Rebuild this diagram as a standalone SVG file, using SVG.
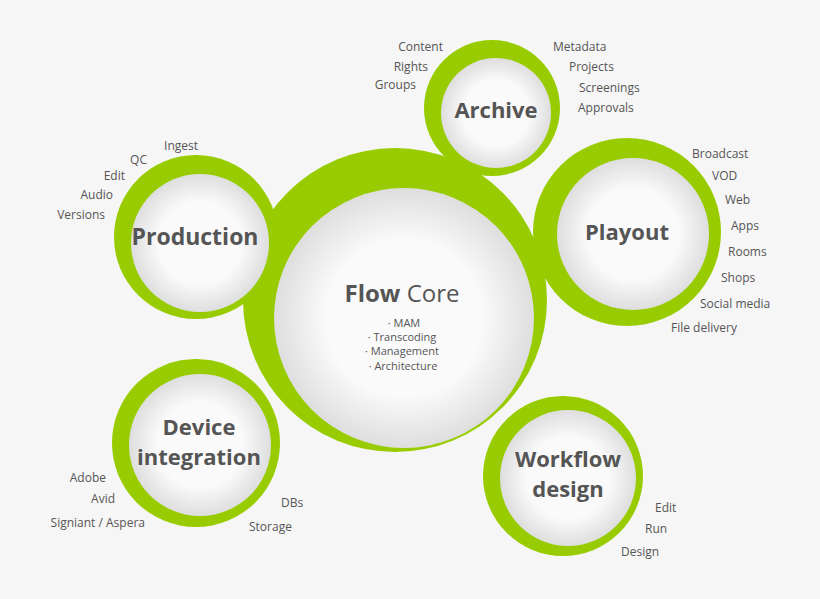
<svg xmlns="http://www.w3.org/2000/svg" width="820" height="599" viewBox="0 0 820 599">
<defs>
<radialGradient id="g" cx="50%" cy="50%" r="50%"><stop offset="0.6" stop-color="#fafafa"/><stop offset="1" stop-color="#dedede"/></radialGradient>
<style>
.ring{fill:#99cc00}
.in{fill:url(#g)}
.t{font-family:"Open Sans",sans-serif;font-weight:bold;fill:#555;text-anchor:middle}
.s{font-family:"Open Sans",sans-serif;font-size:12px;fill:#555}
.c{font-size:11px}
.l{text-anchor:start}.r{text-anchor:end}.m{text-anchor:middle}
</style>
</defs>
<rect width="820" height="599" fill="#f6f6f6"/>
<g id="core"><circle class="ring" cx="395" cy="300" r="152"/><circle class="in" cx="404" cy="318" r="130"/>
<text class="t" x="402" y="302" font-size="24">Flow <tspan font-weight="normal">Core</tspan></text>
<text class="s c m" x="404" y="327">· MAM</text><text class="s c m" x="402" y="341">· Transcoding</text><text class="s c m" x="402" y="355">· Management</text><text class="s c m" x="403" y="370">· Architecture</text></g>
<g id="archive"><circle class="ring" cx="492" cy="108" r="68"/><circle class="in" cx="496" cy="113" r="55"/>
<text class="t" x="496" y="118" font-size="22">Archive</text>
<text class="s r" x="443" y="51">Content</text><text class="s r" x="428" y="71">Rights</text><text class="s r" x="416" y="89">Groups</text>
<text class="s l" x="553" y="51">Metadata</text><text class="s l" x="569" y="71">Projects</text><text class="s l" x="579" y="92">Screenings</text><text class="s l" x="578" y="112">Approvals</text></g>
<g id="production"><circle class="ring" cx="196" cy="237" r="82"/><circle class="in" cx="200" cy="243" r="69"/>
<text class="t" x="195" y="245" font-size="23">Production</text>
<text class="s r" x="198" y="150">Ingest</text><text class="s r" x="147" y="164">QC</text><text class="s r" x="125" y="180">Edit</text><text class="s r" x="113" y="199">Audio</text><text class="s r" x="105" y="219">Versions</text></g>
<g id="playout"><circle class="ring" cx="627" cy="232" r="94"/><circle class="in" cx="633" cy="234" r="76"/>
<text class="t" x="627" y="240" font-size="22">Playout</text>
<text class="s l" x="692" y="158">Broadcast</text><text class="s l" x="712" y="180">VOD</text><text class="s l" x="725" y="204">Web</text><text class="s l" x="731" y="230">Apps</text><text class="s l" x="728" y="256">Rooms</text><text class="s l" x="721" y="282">Shops</text><text class="s l" x="700" y="308">Social media</text><text class="s l" x="671" y="332">File delivery</text></g>
<g id="device"><circle class="ring" cx="196" cy="443" r="84"/><circle class="in" cx="200" cy="445" r="71"/>
<text class="t" x="199" y="435" font-size="22">Device</text><text class="t" x="199" y="465" font-size="22">integration</text>
<text class="s r" x="106" y="482">Adobe</text><text class="s r" x="115" y="503">Avid</text><text class="s r" x="145" y="527">Signiant / Aspera</text>
<text class="s l" x="281" y="507">DBs</text><text class="s l" x="249" y="531">Storage</text></g>
<g id="workflow"><circle class="ring" cx="563" cy="476" r="80"/><circle class="in" cx="568" cy="478" r="68"/>
<text class="t" x="568" y="467" font-size="22">Workflow</text><text class="t" x="568" y="497" font-size="22">design</text>
<text class="s l" x="655" y="512">Edit</text><text class="s l" x="645" y="533">Run</text><text class="s l" x="621" y="556">Design</text></g>
<g id="connectors"/>
</svg>
